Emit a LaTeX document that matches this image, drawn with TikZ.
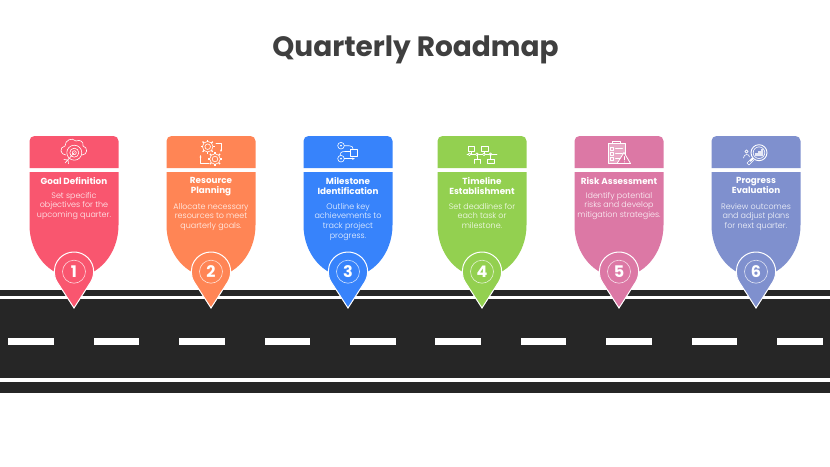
\documentclass[tikz,border=0pt]{standalone}
\usepackage{fontspec}
\setmainfont{Poppins}
\newfontfamily\lightfont{Poppins Light}
\usetikzlibrary{arrows.meta}
\definecolor{roadblack}{HTML}{262626}
\definecolor{titlegrey}{HTML}{3F3F3F}
\definecolor{cardred}{HTML}{F9566F}
\definecolor{cardorange}{HTML}{FF8555}
\definecolor{cardblue}{HTML}{3783FB}
\definecolor{cardgreen}{HTML}{93D050}
\definecolor{cardpink}{HTML}{DC78A5}
\definecolor{cardpurple}{HTML}{7F90CE}
\tikzset{
	headtext/.style={text=white, align=center, inner sep=0pt, anchor=north, font=\fontsize{8.8}{9.9}\selectfont\bfseries},
	bodytext/.style={text=white, text opacity=0.92, align=center, inner sep=0pt, anchor=north, font=\fontsize{8}{9.6}\selectfont\lightfont},
	pinnum/.style={circle, draw=white, draw opacity=0.75, line width=0.6pt, minimum size=23pt, inner sep=0pt, text=white, font=\fontsize{16}{16}\selectfont\bfseries},
	icon/.style={draw=white, line width=0.6pt, line cap=round, line join=round},
	dashbar/.style={fill=white}
}
% id, centre, colour, heading, heading top, text, text top
\newcommand{\roadcard}[7]{
	\fill[#3] (#2-44.5,168) [rounded corners=5pt] -- (#2-44.5,136) -- (#2+44.5,136) [sharp corners] -- (#2+44.5,168) -- cycle;
	\fill[#3] (#2-44.5,172) -- (#2-44.5,225) arc (180:0:44.5 and 52) -- (#2+44.5,172) -- cycle;
	\node[headtext] (head#1) at (#2,#5) {#4};
	\node[bodytext] (text#1) at (#2,#7) {#6};
	\draw[white, line width=1pt, fill=#3] (#2,308) -- (#2+16.5,282.4) arc (32.9:-212.9:19.7) -- cycle;
	\node[pinnum] (num#1) at (#2,271.7) {#1};
}
\newcommand{\gearicon}[2]{
	\draw[icon] (#1,#2) circle (5.3) (#1,#2) circle (2.8);
	\foreach \a in {0,45,...,315}
		\draw[icon, line width=1.2pt, line cap=butt] (#1,#2) ++(\a:5.2) -- ++(\a:2);
}
\begin{document}
\begin{tikzpicture}[x=1pt, y=-1pt]
		\useasboundingbox (0,0) rectangle (830,466);
		\fill[white] (0,0) rectangle (830,466);
		
		\node[text=titlegrey, inner sep=0pt, font=\fontsize{28}{30}\selectfont\bfseries] (title) at (415.5,50) {Quarterly Roadmap};
		
		\fill[roadblack] (0,290) rectangle (830,295.5);
		\fill[roadblack] (0,298.5) rectangle (830,377.5);
		\fill[roadblack] (0,381.5) rectangle (830,393);
		\foreach \x in {8,93.5,179,264.5,350,435,520.5,606,691.5,777}
			\fill[dashbar] (\x,337.5) rectangle (\x+45.5,345);
		
		\roadcard{1}{74}{cardred}{Goal Definition}{177.5}{Set specific\\objectives for the\\upcoming quarter.}{192}
		\roadcard{2}{211}{cardorange}{Resource\\Planning}{177.5}{Allocate necessary\\resources to meet\\quarterly goals.}{203}
		\roadcard{3}{348}{cardblue}{Milestone\\Identification}{177.5}{Outline key\\achievements to\\track project\\progress.}{203}
		\roadcard{4}{482}{cardgreen}{Timeline\\Establishment}{177.5}{Set deadlines for\\each task or\\milestone.}{203}
		\roadcard{5}{619}{cardpink}{Risk Assessment}{177.5}{Identify potential\\risks and develop\\mitigation strategies.}{192}
		\roadcard{6}{756}{cardpurple}{Progress\\Evaluation}{177.5}{Review outcomes\\and adjust plans\\for next quarter.}{203}
		
		\draw[icon] (66,155) .. controls (60,155) and (59,147) .. (65,146) .. controls (65,140) and (72,137) .. (76,141) .. controls (80,139) and (84,142) .. (83,146) .. controls (88,147) and (88,155) .. (82,155);
		\draw[icon, fill=cardred] (74.3,152.7) circle (7.5);
		\draw[icon] (74.3,152.7) circle (4.5) (74.3,152.7) circle (2);
		\draw[icon] (74.3,152.7) -- (65,163) (64,159.5) -- (68,160) -- (68.5,163.5);
		
		\gearicon{207.7}{146.7}
		\gearicon{215}{159}
		\draw[icon, -{Stealth[length=2.5pt]}] (216,143) -- (221,143) -- (221,152);
		\draw[icon, -{Stealth[length=2.5pt]}] (209,163) -- (200.5,163) -- (200.5,155);
		
		\draw[icon] (341,145.7) circle (3.3) (341,145.7) circle (0.6);
		\draw[icon] (341,158.7) circle (3.3) (341,158.7) circle (0.6);
		\draw[icon] (344.3,145.7) -- (349,145.7) .. controls (352,145.7) and (353,147) .. (353,149);
		\draw[icon] (350.5,151.5) -- (345,151.5) .. controls (341,151.5) and (340,153) .. (340,155.4);
		\draw[icon] (350.5,149.5) rectangle (357,156);
		\draw[icon, -{Stealth[length=3pt]}] (344.3,158.7) -- (355,158.7);
		
		\draw[icon] (467,154.3) -- (497,154.3);
		\foreach \x in {469.5,477,484,490.5}
			\draw[icon, fill=cardgreen] (\x,154.3) circle (1.4);
		\draw[icon] (468,146.5) rectangle (474,151.5) (471,151.5) -- (471,154.3);
		\draw[icon] (481,146.5) rectangle (488,151.5) (484,151.5) -- (484,154.3);
		\draw[icon] (474.5,163.5) -- (474.5,159) -- (480,159) -- (480,163.5) (477,154.3) -- (477,159);
		\draw[icon] (487,159) rectangle (494,163.5) (490.5,154.3) -- (490.5,159);
		
		\draw[icon, fill=white, fill opacity=0.35] (608,143) rectangle (625,163);
		\draw[icon] (612.5,143) -- (612.5,141) -- (620.5,141) -- (620.5,143);
		\foreach \y in {147,152,157}
			\draw[icon] (610.5,\y) rectangle (613.5,\y+3) (615.5,\y+1.5) -- (622.5,\y+1.5);
		\draw[icon, fill=cardpink, line width=0.8pt] (617,163.5) -- (624,152.5) -- (630.5,163.5) -- cycle;
		\draw[icon, line width=0.9pt] (624,156.5) -- (624,160) (624,161.8) -- (624,162);
		
		\draw[icon, line width=0.9pt] (759,152.7) circle (8);
		\draw[icon] (759,152.7) circle (5.8);
		\draw[icon, line width=1.6pt] (753,158.5) -- (750.5,161);
		\draw[icon] (752,158) -- (747,163) -- (749,165) -- (754,160) ;
		\draw[icon] (746.5,151.5) circle (1.6) (743.5,158) .. controls (743.5,153.5) and (749.5,153.5) .. (749.5,157);
		\fill[white, fill opacity=0.8] (755,156) -- (755,153) -- (758,153) -- (758,151) -- (761,151) -- (761,149) -- (763,149) -- (763,156) -- cycle;
	\end{tikzpicture}
\end{document}
